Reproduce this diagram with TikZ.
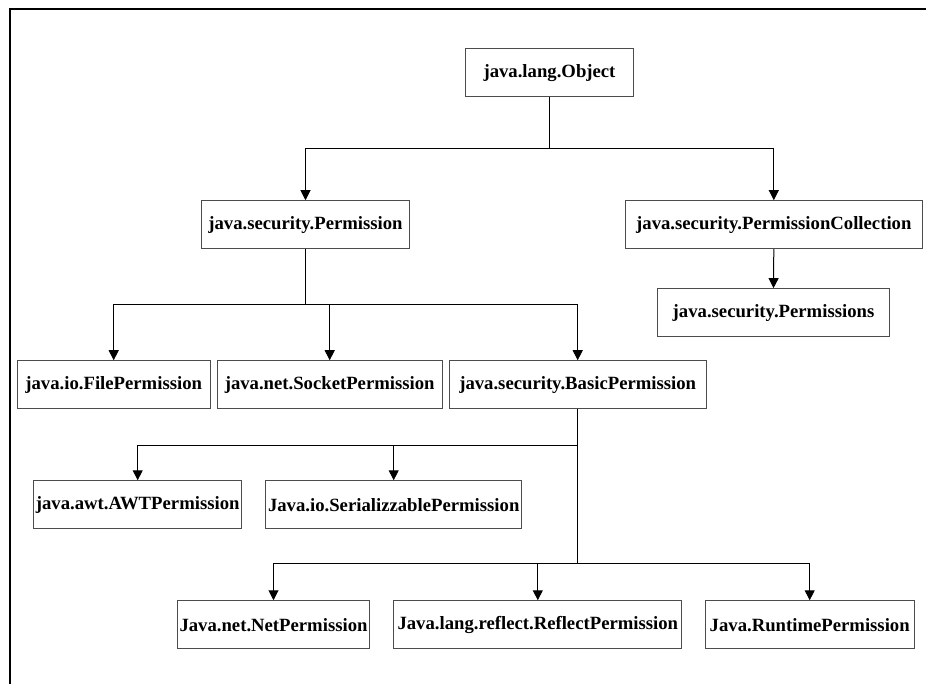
\documentclass[tikz,border=0pt]{standalone}
\usepackage{fontspec}
\setmainfont{Liberation Serif}
\usetikzlibrary{arrows.meta}
\begin{document}
\begin{tikzpicture}[x=1pt, y=-1pt,
  cls/.style={draw=black!70, line width=1.1pt, fill=white, inner sep=0pt,
    minimum height=48pt, font=\fontsize{18.7}{20}\selectfont\bfseries},
  inherit/.style={draw=black, line width=1pt,
    -{Triangle[length=10pt, width=10pt]}},
  bus/.style={draw=black, line width=1pt}]
\useasboundingbox (0,0) rectangle (926,684);
% outer frame, open on the right and at the bottom
\draw[line width=2pt] (9.5,690) -- (9.5,9) -- (930,9);

% classes
\node[cls, minimum width=168pt] (obj)    at (549.5,72.7)  {java.lang.Object};
\node[cls, minimum width=208pt] (perm)   at (305.5,224.8) {java.security.Permission};
\node[cls, minimum width=297pt] (pcoll)  at (773.8,224.7) {java.security.PermissionCollection};
\node[cls, minimum width=232pt] (perms)  at (773.5,312.7) {java.security.Permissions};
\node[cls, minimum width=193pt] (file)   at (113.7,384.8) {java.io.FilePermission};
\node[cls, minimum width=225pt] (socket) at (329.7,384.8) {java.net.SocketPermission};
\node[cls, minimum width=257pt] (basic)  at (577.7,384.8) {java.security.BasicPermission};
\node[cls, minimum width=208pt] (awt)    at (137.7,504.8) {java.awt.AWTPermission};
\node[cls, minimum width=256pt] (ser)    at (393.7,504.8) {Java.io.SerializzablePermission};
\node[cls, minimum width=192pt] (net)    at (273.5,624.8) {Java.net.NetPermission};
\node[cls, minimum width=288pt] (refl)   at (537.8,624.8) {Java.lang.reflect.ReflectPermission};
\node[cls, minimum width=209pt] (run)    at (809.7,624.8) {Java.RuntimePermission};

% heights of the horizontal bus lines
\coordinate (b1) at (0,149);
\coordinate (b2) at (0,305);
\coordinate (b3) at (0,445);
\coordinate (b4) at (0,563);

% java.lang.Object
\draw[bus] (obj.south) -- (obj.south |- b1);
\draw[inherit] (obj.south |- b1) -| (perm.north);
\draw[inherit] (obj.south |- b1) -| (pcoll.north);
\draw[inherit] (pcoll.south) -- (perms.north);

% java.security.Permission
\draw[bus] (perm.south) -- (perm.south |- b2);
\draw[inherit] (perm.south |- b2) -| (file.north);
\draw[inherit] (perm.south |- b2) -| (socket.north);
\draw[inherit] (perm.south |- b2) -| (basic.north);

% java.security.BasicPermission
\draw[bus] (basic.south) -- (basic.south |- b4);
\draw[inherit] (basic.south |- b3) -| (awt.north);
\draw[inherit] (basic.south |- b3) -| (ser.north);
\draw[inherit] (basic.south |- b4) -| (net.north);
\draw[inherit] (basic.south |- b4) -| (refl.north);
\draw[inherit] (basic.south |- b4) -| (run.north);
\end{tikzpicture}
\end{document}
